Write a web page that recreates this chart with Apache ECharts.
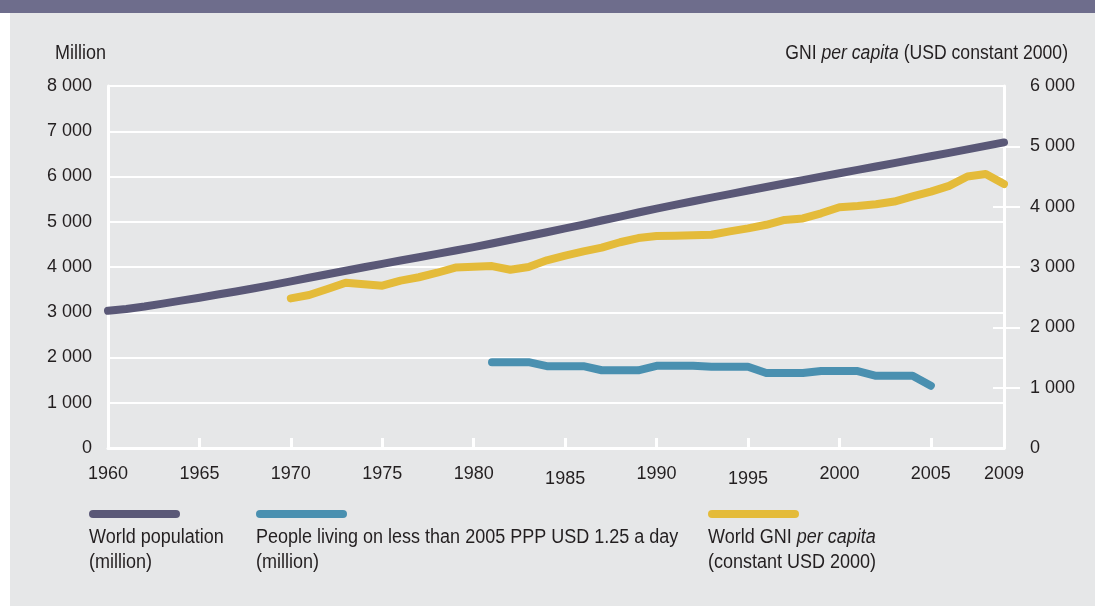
<!DOCTYPE html>
<html>
<head>
<meta charset="utf-8">
<script src="https://cdn.jsdelivr.net/npm/echarts@6/dist/echarts.min.js"></script>
<style>
  html, body { margin: 0; padding: 0; background: #ffffff; }
  #chart { width: 1095px; height: 606px; }
</style>
</head>
<body>
<div id="chart"></div>
<script>
"use strict";

// World population, million (1960-2009)
var popStart = 1960;
var population = [3032, 3073, 3126, 3190, 3256, 3322, 3391, 3459, 3530, 3604,
                  3682, 3762, 3840, 3918, 3995, 4070, 4143, 4215, 4289, 4365,
                  4440, 4520, 4603, 4686, 4768, 4852, 4938, 5027, 5115, 5204,
                  5290, 5373, 5454, 5533, 5612, 5690, 5768, 5845, 5921, 5997,
                  6072, 6147, 6222, 6297, 6372, 6447, 6523, 6599, 6676, 6753];

// People living on less than USD 1.25 a day, million (1981-2005)
var povStart = 1981;
var poverty = [1896, 1896, 1896, 1809, 1809, 1809, 1718, 1718, 1718, 1817,
               1817, 1817, 1794, 1794, 1794, 1657, 1657, 1657, 1700, 1700,
               1700, 1596, 1596, 1596, 1377];

// World GNI per capita, constant USD 2000 (1970-2009)
var gniStart = 1970;
var gni = [2480, 2535, 2635, 2740, 2715, 2690, 2775, 2830, 2905, 2990,
           3005, 3015, 2955, 3000, 3110, 3190, 3260, 3320, 3410, 3480,
           3515, 3520, 3525, 3535, 3590, 3640, 3700, 3780, 3805, 3890,
           3990, 4010, 4040, 4085, 4170, 4250, 4345, 4500, 4540, 4375];

var yearLabels = [1960, 1965, 1970, 1975, 1980, 1985, 1990, 1995, 2000, 2005, 2009];
var yearTicks = [1965, 1970, 1975, 1980, 1985, 1990, 1995, 2000, 2005];
var gniTicks = [1000, 2000, 3000, 4000, 5000];

var FONT = "'Liberation Sans', Arial, sans-serif";
var INK = '#231f20';
var C_POP = '#5a5877';
var C_POV = '#4a90b0';
var C_GNI = '#e4bb3a';
var TICK_SIZE = 18;

function pairs(start, arr) { // [year, value]
    var out = [];
    for (var i = 0; i < arr.length; i++) {
        out.push([start + i, arr[i]]);
    }
    return out;
}

function fmt(v) { // 8000 -> "8 000"
    return String(v).replace(/\B(?=(\d{3})+(?!\d))/g, ' ');
}

function lineSeries(name, data, color, yIdx) {
    return {
        name: name,
        type: 'line',
        yAxisIndex: yIdx,
        data: data,
        symbol: 'none',
        silent: true,
        lineStyle: { color: color, width: 8, cap: 'round', join: 'round' }
    };
}

var italicRich = {
    i: { fontStyle: 'italic', fontSize: 20, fontFamily: FONT, fill: INK, lineHeight: 25 }
};

// free text squeezed a bit, the original uses a condensed face
function gtext(x, y, text, align, sx) {
    return {
        type: 'text', x: x, y: y, scaleX: sx || 0.9, silent: true,
        style: {
            text: text, fontSize: 20, fontFamily: FONT, fill: INK,
            lineHeight: 25, align: align || 'left', verticalAlign: 'top',
            rich: italicRich
        }
    };
}

function legendBar(x, color) {
    return {
        type: 'rect', x: x, y: 510, silent: true,
        shape: { width: 91, height: 8, r: 4 },
        style: { fill: color }
    };
}

var chart = echarts.init(document.getElementById('chart'), null, { renderer: 'canvas' });

var option = {
    backgroundColor: '#e6e7e8',
    animation: false,
    textStyle: { fontFamily: FONT, color: INK },
    grid: { left: 108, right: 91, top: 86, bottom: 158, containLabel: false },
    xAxis: {
        type: 'value',
        min: 1960,
        max: 2009,
        axisLine: { show: true, lineStyle: { color: '#ffffff', width: 3 } },
        axisTick: {
            show: true, inside: true, length: 10, customValues: yearTicks,
            lineStyle: { color: '#ffffff', width: 3 }
        },
        splitLine: { show: false },
        axisLabel: {
            customValues: yearLabels,
            margin: 17,
            fontSize: TICK_SIZE,
            fontFamily: FONT,
            color: INK,
            formatter: function(v) {
                if (v === 1985 || v === 1995) return '{low|' + v + '}';
                return String(v);
            },
            rich: { low: { fontSize: TICK_SIZE, fontFamily: FONT, color: INK, padding: [5, 0, 0, 0] } }
        }
    },
    yAxis: [{
        type: 'value',
        position: 'left',
        min: 0,
        max: 8000,
        interval: 1000,
        axisLine: { show: true, lineStyle: { color: '#ffffff', width: 3 } },
        axisTick: { show: false },
        splitLine: { show: true, lineStyle: { color: '#ffffff', width: 2 } },
        axisLabel: { margin: 16, fontSize: TICK_SIZE, fontFamily: FONT, color: INK, formatter: fmt }
    }, {
        type: 'value',
        position: 'right',
        min: 0,
        max: 6000,
        interval: 1000,
        axisLine: { show: true, lineStyle: { color: '#ffffff', width: 3 } },
        axisTick: {
            show: true, length: 16, customValues: gniTicks,
            lineStyle: { color: '#ffffff', width: 2 }
        },
        splitLine: { show: false },
        axisLabel: { margin: 26, fontSize: TICK_SIZE, fontFamily: FONT, color: INK, formatter: fmt }
    }, {
        // inner half of the right-hand ticks
        type: 'value',
        position: 'right',
        min: 0,
        max: 6000,
        interval: 1000,
        axisLine: { show: false },
        axisTick: {
            show: true, inside: true, length: 11, customValues: gniTicks,
            lineStyle: { color: '#ffffff', width: 2 }
        },
        splitLine: { show: false },
        axisLabel: { show: false }
    }],
    series: [
        lineSeries('World population (million)', pairs(popStart, population), C_POP, 0),
        lineSeries('World GNI per capita (constant USD 2000)', pairs(gniStart, gni), C_GNI, 1),
        lineSeries('People living on less than 2005 PPP USD 1.25 a day (million)', pairs(povStart, poverty), C_POV, 0)
    ],
    graphic: [
        // title banner and white margin
        { type: 'rect', x: 0, y: 0, shape: { width: 1095, height: 13 }, style: { fill: '#6e6d8c' }, silent: true },
        { type: 'rect', x: 0, y: 13, shape: { width: 10, height: 593 }, style: { fill: '#ffffff' }, silent: true },
        // axis names
        gtext(55, 41, 'Million'),
        gtext(1068, 41, 'GNI {i|per capita} (USD constant 2000)', 'right', 0.88),
        // legend
        legendBar(89, C_POP),
        legendBar(256, C_POV),
        legendBar(708, C_GNI),
        gtext(89, 525, 'World population\n(million)'),
        gtext(256, 525, 'People living on less than 2005 PPP USD 1.25 a day\n(million)'),
        gtext(708, 525, 'World GNI {i|per capita}\n(constant USD 2000)')
    ]
};

chart.setOption(option);
</script>
</body>
</html>
